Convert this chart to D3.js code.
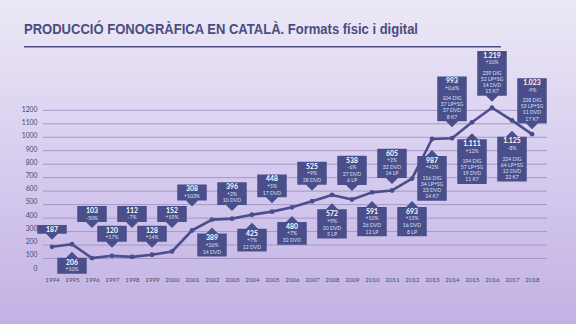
<!DOCTYPE html>
<html><head><meta charset="utf-8">
<script src="https://cdn.jsdelivr.net/npm/d3@7"></script>
<style>html,body{margin:0;padding:0;overflow:hidden;background:#d8d0ee}svg{display:block}</style>
</head><body>
<svg id="c" width="576" height="324"></svg>
<script>
// ---------- DATA ----------
const years = [1994,1995,1996,1997,1998,1999,2000,2001,2002,2003,2004,2005,2006,2007,2008,2009,2010,2011,2012,2013,2014,2015,2016,2017,2018];
const totals = [187,206,103,120,112,128,152,308,389,396,425,448,480,525,572,538,591,605,693,987,993,1111,1219,1125,1023];
const changes = [null,"+10%","-50%","+17%","-7%","+14%","+19%","+103%","+26%","+2%","+7%","+5%","+7%","+9%","+9%","-6%","+10%","+2%","+15%","+42%","+0,6%","+12%","+10%","-8%","-9%"];
const digital = [null,null,null,null,null,null,null,null,null,null,null,null,null,null,null,null,null,null,null,116,104,194,239,224,228];
const lpSingle = [null,null,null,null,null,null,null,null,null,null,null,null,null,null,null,null,null,null,null,34,37,57,52,64,53];
const dvd = [null,null,null,null,null,null,null,null,14,10,12,17,32,28,20,27,26,32,16,23,37,19,14,12,11];
const lp = [null,null,null,null,null,null,null,null,null,null,null,null,null,null,5,6,12,14,8,null,null,null,null,null,null];
const k7 = [null,null,null,null,null,null,null,null,null,null,null,null,null,null,null,null,null,null,null,14,8,11,15,22,17];
const calloutSide = ["up","down","up","up","up","up","up","up","down","up","down","up","down","up","down","up","down","up","down","down","up","down","up","down","up"];
const yTicks = [0,100,200,300,400,500,600,700,800,900,1000,1100,1200];
const gridTicks = [100,200,300,400,500,600,700,800,900,1000,1100,1200];
const titleText = "PRODUCCIÓ FONOGRÀFICA EN CATALÀ. Formats físic i digital";

// ---------- LAYOUT (pixel gaps between point and callout tip) ----------
const calloutGap = [7,7.5,30,8,29,7,23.5,24,8,7.6,8,8.3,8.7,10.6,8.4,8.5,8.6,6.5,22.4,11,11,11,6,10.3,5];

const svg = d3.select("#c");
const W = 576, H = 324;
const defs = svg.append("defs");
const grad = defs.append("linearGradient").attr("id","bg").attr("x1",0).attr("y1",0).attr("x2",0).attr("y2",1);
grad.append("stop").attr("offset","0%").attr("stop-color","#ece8f6");
grad.append("stop").attr("offset","50%").attr("stop-color","#d7cdef");
grad.append("stop").attr("offset","100%").attr("stop-color","#c2b1e3");
svg.append("rect").attr("width",W).attr("height",H).attr("fill","url(#bg)");

// title
svg.append("text").attr("x",24).attr("y",33.5)
  .attr("font-family","'Liberation Sans', Arial, sans-serif").attr("font-weight","bold")
  .attr("font-size",14).attr("textLength",394).attr("lengthAdjust","spacingAndGlyphs")
  .attr("fill","#4b4d80").text(titleText);
svg.append("line").attr("x1",24).attr("x2",501).attr("y1",46.7).attr("y2",46.7)
  .attr("stroke","#4b4e84").attr("stroke-width",1.6);

const x = d3.scalePoint().domain(years).range([52,532]);
const y = d3.scaleLinear().domain([0,1200]).range([272,110.3]);
const yLabel = d3.scaleLinear().domain([0,1200]).range([267.7,109]);

// grid
svg.append("g").selectAll("line").data(gridTicks).join("line")
  .attr("x1",43).attr("x2",547).attr("y1",d=>y(d)).attr("y2",d=>y(d))
  .attr("stroke","#a598c8").attr("stroke-width",1);

// y axis labels
const ya = svg.append("g").attr("transform","translate(37.5,0)")
  .call(d3.axisLeft(yLabel).tickValues(yTicks).tickSize(0).tickPadding(0).tickFormat(d3.format("d")));
ya.select(".domain").remove();
ya.selectAll("text").attr("font-family","Lato, 'Noto Sans', sans-serif").attr("font-size",6.8)
  .attr("fill","#4a4868").attr("dy","0.35em");

// x axis labels
const xa = svg.append("g").attr("transform","translate(0,277.5)")
  .call(d3.axisBottom(x).tickSize(0).tickPadding(0).tickFormat(d3.format("d")));
xa.select(".domain").remove();
xa.selectAll("text").attr("font-family","Lato, 'Noto Sans', sans-serif").attr("font-size",6.2)
  .attr("fill","#4a4868").attr("dy","0.71em");

// line
const lineColor = "#4b4e8c";
svg.append("path").datum(years.map((yr,i)=>[yr,totals[i]]))
  .attr("d", d3.line().x(d=>x(d[0])).y(d=>y(d[1])))
  .attr("fill","none").attr("stroke",lineColor).attr("stroke-width",2.6)
  .attr("stroke-linejoin","round").attr("stroke-linecap","round");
svg.append("g").selectAll("circle").data(years).join("circle")
  .attr("cx",d=>x(d)).attr("cy",(d,i)=>y(totals[i])).attr("r",2.4).attr("fill",lineColor);

// callouts
const loc = d3.formatLocale({decimal:",",thousands:".",grouping:[3],currency:["",""]});
const fmt = loc.format(",d");
const boxW = 29.5, triH = 6, triW = 6;
const boxFill = "#4a4f8b";
const g = svg.append("g");
years.forEach((yr,i)=>{
  const details = [];
  if (digital[i]!=null) details.push(digital[i]+" DIG");
  if (lpSingle[i]!=null) details.push(lpSingle[i]+" LP+SG");
  if (dvd[i]!=null) details.push(dvd[i]+" DVD");
  if (lp[i]!=null) details.push(lp[i]+" LP");
  if (k7[i]!=null) details.push(k7[i]+" K7");
  const big = details.length > 2;
  const offs = [4.4];
  if (changes[i]) offs.push(offs[0]+7.2);
  details.forEach((d,k)=>{
    const last = offs[offs.length-1];
    if (k===0) offs.push(last + (big ? 10.5 : 6.8));
    else offs.push(last + (big ? 6.1 : 6.4));
  });
  const h = offs[offs.length-1] + 4.4;
  const px = x(yr), py = y(totals[i]);
  const up = calloutSide[i]==="up";
  const tip = up ? py - calloutGap[i] : py + calloutGap[i];
  const top = up ? tip - triH - h : tip + triH;
  const bot = top + h;
  const l = px - boxW/2, r = px + boxW/2;
  let p;
  if (up) p = `M${l},${top}H${r}V${bot}H${px+triW}L${px},${tip}L${px-triW},${bot}H${l}Z`;
  else p = `M${l},${top}H${px-triW}L${px},${tip}L${px+triW},${top}H${r}V${bot}H${l}Z`;
  g.append("path").attr("d",p).attr("fill",boxFill);
  const lines = [fmt(totals[i])];
  if (changes[i]) lines.push(changes[i]);
  details.forEach(d=>lines.push(d));
  lines.forEach((t,k)=>{
    g.append("text").attr("x",px).attr("y",top+offs[k]).attr("dy","0.35em")
      .attr("text-anchor","middle")
      .attr("font-family","Lato, 'Noto Sans', sans-serif")
      .attr("font-weight", k===0 ? "bold" : "normal")
      .attr("font-size", k===0 ? 6.8 : 5.1)
      .attr("fill", k===0 ? "#ffffff" : "#dfe0f4")
      .text(t);
  });
});
</script>
</body></html>
